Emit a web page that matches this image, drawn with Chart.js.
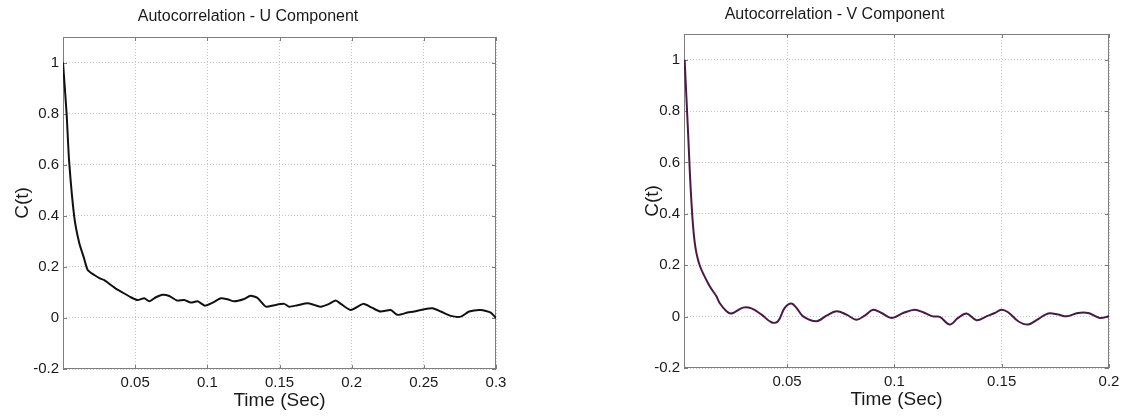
<!DOCTYPE html>
<html>
<head>
<meta charset="utf-8">
<script src="https://cdn.jsdelivr.net/npm/chart.js@4.4.1/dist/chart.umd.min.js"></script>
<style>
  html, body { margin: 0; padding: 0; background: #fff; }
  body { width: 1127px; height: 417px; position: relative; overflow: hidden; }
  .panel { position: absolute; top: 0; height: 417px; }
  #leftPanel { left: 0; width: 520px; }
  #rightPanel { left: 560px; width: 567px; }
</style>
</head>
<body>
<div class="panel" id="leftPanel"><canvas id="uChart" width="520" height="417"></canvas></div>
<div class="panel" id="rightPanel"><canvas id="vChart" width="567" height="417"></canvas></div>
<script>
// U component
const uTime = [0, 0.0025, 0.0042, 0.0078, 0.0113, 0.0145, 0.0171, 0.0217, 0.0255, 0.0286,
  0.0332, 0.0365, 0.0402, 0.047, 0.0517, 0.0563, 0.0598, 0.0644, 0.069, 0.0736,
  0.079, 0.084, 0.0886, 0.0933, 0.0983, 0.1037, 0.1094, 0.114, 0.1186, 0.125,
  0.130, 0.1348, 0.1406, 0.1463, 0.1533, 0.1567, 0.1625, 0.1695, 0.174, 0.1787,
  0.1844, 0.189, 0.1925, 0.1994, 0.208, 0.214, 0.220, 0.227, 0.2318, 0.2387,
  0.2433, 0.2502, 0.256, 0.2618, 0.2687, 0.2756, 0.2814, 0.2895, 0.2964, 0.30];
const uVal = [1.0, 0.80, 0.617, 0.396, 0.292, 0.235, 0.188, 0.168, 0.155, 0.148,
  0.129, 0.115, 0.103, 0.081, 0.070, 0.077, 0.065, 0.081, 0.091, 0.086,
  0.068, 0.070, 0.060, 0.065, 0.048, 0.060, 0.077, 0.073, 0.065, 0.073,
  0.087, 0.078, 0.044, 0.050, 0.055, 0.044, 0.050, 0.057, 0.051, 0.044,
  0.055, 0.068, 0.055, 0.031, 0.055, 0.040, 0.025, 0.031, 0.012, 0.021,
  0.025, 0.034, 0.038, 0.025, 0.008, 0.005, 0.025, 0.031, 0.021, -0.001];

// V component
const vTime = [0.0023, 0.0039, 0.0054, 0.007, 0.0093, 0.014, 0.0171, 0.0186, 0.0218, 0.0241,
  0.0295, 0.0334, 0.0381, 0.0427, 0.0458, 0.0489, 0.052, 0.0544, 0.0575, 0.0637,
  0.0684, 0.073, 0.0777, 0.0823, 0.0862, 0.0901, 0.094, 0.0986, 0.1041, 0.1095,
  0.1134, 0.118, 0.1212, 0.1258, 0.1297, 0.1336, 0.1383, 0.1429, 0.1468, 0.1499,
  0.153, 0.1577, 0.1623, 0.1662, 0.1716, 0.1763, 0.1802, 0.1856, 0.1903, 0.1957, 0.2];
const vVal = [1.0, 0.715, 0.455, 0.288, 0.200, 0.118, 0.079, 0.053, 0.021, 0.012,
  0.035, 0.032, 0.008, -0.022, -0.018, 0.034, 0.051, 0.034, 0.001, -0.018,
  0.004, 0.021, 0.008, -0.012, 0.004, 0.027, 0.014, -0.005, 0.014, 0.027,
  0.017, 0.001, -0.001, -0.031, -0.005, 0.012, -0.014, 0.001, 0.014, 0.027,
  0.017, -0.018, -0.031, -0.014, 0.012, 0.008, 0.001, 0.014, 0.014, -0.005, 0.001];

// tick labels
const uTicksX = [0.05, 0.1, 0.15, 0.2, 0.25, 0.3];
const vTicksX = [0.05, 0.1, 0.15, 0.2];
const ticksY = [-0.2, 0, 0.2, 0.4, 0.6, 0.8, 1];

const FONT = "'Liberation Sans', Arial, sans-serif";
const fmt = (v) => String(+Number(v).toFixed(2));

// MATLAB style box with inward tick marks
const boxPlugin = {
  id: "box",
  beforeDatasetsDraw(chart) {
    const { ctx, chartArea: a, scales: { x, y } } = chart;
    ctx.save();
    ctx.setLineDash([]);
    ctx.strokeStyle = "#7d7d7d";
    ctx.lineWidth = 1;
    ctx.strokeRect(Math.round(a.left) + 0.5, Math.round(a.top) + 0.5,
      Math.round(a.width) - 1, Math.round(a.height) - 1);
    ctx.beginPath();
    x.ticks.forEach(t => {
      const px = Math.round(x.getPixelForValue(t.value)) + 0.5;
      ctx.moveTo(px, a.bottom); ctx.lineTo(px, a.bottom - 4);
      ctx.moveTo(px, a.top); ctx.lineTo(px, a.top + 4);
    });
    y.ticks.forEach(t => {
      const py = Math.round(y.getPixelForValue(t.value)) + 0.5;
      ctx.moveTo(a.left, py); ctx.lineTo(a.left + 4, py);
      ctx.moveTo(a.right, py); ctx.lineTo(a.right - 4, py);
    });
    ctx.stroke();
    ctx.restore();
  }
};

function makeChart(id, o) {
  const ctx = document.getElementById(id).getContext("2d");
  return new Chart(ctx, {
    type: "line",
    data: {
      datasets: [{
        data: o.times.map((t, i) => ({ x: t, y: o.vals[i] })),
        borderColor: o.color,
        borderWidth: 2,
        pointRadius: 0,
        tension: o.tension,
        fill: false
      }]
    },
    options: {
      responsive: false,
      animation: false,
      layout: { padding: { left: 0, right: o.padRight, top: 0, bottom: 0 } },
      plugins: {
        legend: { display: false },
        tooltip: { enabled: false },
        title: {
          display: true,
          text: o.title,
          color: "#1a1a1a",
          font: { family: FONT, size: 16, weight: "normal" },
          padding: { top: o.titleTop, bottom: o.titleBottom }
        }
      },
      scales: {
        x: {
          type: "linear",
          min: o.xMin,
          max: o.xMax,
          afterFit: (s) => { s.height = o.xHeight; },
          afterBuildTicks: (s) => { s.ticks = o.xTicks.map(v => ({ value: v })); },
          grid: { color: "#c8c8c8", drawTicks: false, lineWidth: 1 },
          border: { display: false, dash: [1, 2] },
          ticks: { color: "#1a1a1a", padding: 5, maxRotation: 0, autoSkip: false,
            font: { family: FONT, size: 15 }, callback: fmt },
          title: { display: true, text: "Time (Sec)", color: "#1a1a1a",
            font: { family: FONT, size: 19 }, padding: { top: 0, bottom: o.xTitleBottom } }
        },
        y: {
          min: -0.2,
          max: 1.1,
          afterFit: (s) => { s.width = o.yWidth; },
          afterBuildTicks: (s) => { s.ticks = ticksY.map(v => ({ value: v })); },
          grid: { color: "#c8c8c8", drawTicks: false, lineWidth: 1 },
          border: { display: false, dash: [1, 2] },
          ticks: { color: "#1a1a1a", padding: 4, autoSkip: false,
            font: { family: FONT, size: 15 }, callback: fmt },
          title: { display: true, text: "C(t)", color: "#1a1a1a",
            font: { family: FONT, size: 19 }, padding: { top: o.yTitleLeft, bottom: 0 } }
        }
      }
    },
    plugins: [boxPlugin]
  });
}

makeChart("uChart", {
  title: "Autocorrelation - U Component",
  times: uTime, vals: uVal, xTicks: uTicksX,
  xMin: 0, xMax: 0.3,
  color: "#111111", tension: 0.2,
  padRight: 24, yWidth: 63, xHeight: 48,
  titleTop: 7.4, titleBottom: 10.4,
  xTitleBottom: 4.6, yTitleLeft: 11.6
});

makeChart("vChart", {
  title: "Autocorrelation - V Component",
  times: vTime, vals: vVal, xTicks: vTicksX,
  xMin: 0.002, xMax: 0.2,
  color: "#4a1a46", tension: 0.35,
  padRight: 18, yWidth: 124, xHeight: 49,
  titleTop: 4.9, titleBottom: 9.9,
  xTitleBottom: 5.6, yTitleLeft: 81.6
});
</script>
</body>
</html>
